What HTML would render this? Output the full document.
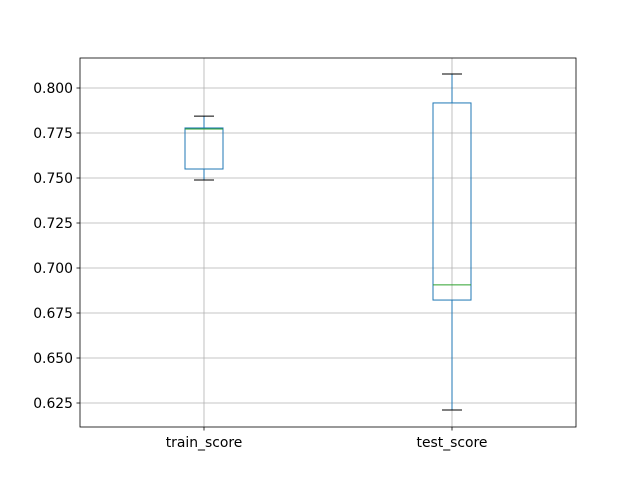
<!DOCTYPE html>
<html><head><meta charset="utf-8"><style>body{margin:0;background:#fff}svg{display:block}text{font-family:"DejaVu Sans","Liberation Sans",sans-serif;font-size:13.9px;fill:#000}</style></head>
<body>
<svg id="chart" width="640" height="480"></svg>
<script>
const categories = ["train_score", "test_score"];
const whiskerLow = [0.7489, 0.6211];
const q1 = [0.7550, 0.6822];
const medians = [0.7772, 0.6906];
const q3 = [0.7778, 0.7917];
const whiskerHigh = [0.7844, 0.8078];
const yTicks = [0.625, 0.650, 0.675, 0.700, 0.725, 0.750, 0.775, 0.800];

const L = 80, R = 576, T = 58, B = 427;
const yMin = 0.61167, yMax = 0.81667;
const y = v => B - (v - yMin) / (yMax - yMin) * (B - T);
const x = i => L + (R - L) * (i + 0.5) / categories.length;
const svg = document.getElementById('chart');
const NS = 'http://www.w3.org/2000/svg';
function mk(tag, attrs, parent) {
  const e = document.createElementNS(NS, tag);
  for (const k in attrs) e.setAttribute(k, attrs[k]);
  (parent || svg).appendChild(e);
  return e;
}
const grid = mk('g', {});


yTicks.forEach(t => {
  mk('line', {x1: L, x2: R, y1: y(t), y2: y(t), stroke: '#b0b0b0', 'stroke-width': 0.8}, grid);
  mk('line', {x1: L - 3.5, x2: L, y1: y(t), y2: y(t), stroke: '#000', 'stroke-width': 0.8}, grid);
  const tx = mk('text', {x: L - 7, y: y(t) + 5, 'text-anchor': 'end'}, grid);
  tx.textContent = t.toFixed(3);
  
  
});
categories.forEach((c, i) => {
  mk('line', {x1: x(i), x2: x(i), y1: T, y2: B, stroke: '#b0b0b0', 'stroke-width': 0.8}, grid);
  mk('line', {x1: x(i), x2: x(i), y1: B, y2: B + 3.5, stroke: '#000', 'stroke-width': 0.8}, grid);
  const tx = mk('text', {x: x(i), y: B + 20, 'text-anchor': 'middle'}, grid);
  tx.textContent = c;
  
  
});
categories.forEach((c, i) => {
  const g = mk('g', {});
  
  
  const cx = x(i), hw = 19, cw = 10, col = '#1f77b4';
  mk('line', {x1: cx, x2: cx, y1: y(q1[i]), y2: y(whiskerLow[i]), stroke: col, 'stroke-width': 1}, g);
  mk('line', {x1: cx, x2: cx, y1: y(q3[i]), y2: y(whiskerHigh[i]), stroke: col, 'stroke-width': 1}, g);
  mk('line', {x1: cx - cw, x2: cx + cw, y1: y(whiskerLow[i]), y2: y(whiskerLow[i]), stroke: '#000', 'stroke-width': 1}, g);
  mk('line', {x1: cx - cw, x2: cx + cw, y1: y(whiskerHigh[i]), y2: y(whiskerHigh[i]), stroke: '#000', 'stroke-width': 1}, g);
  mk('rect', {x: cx - hw, y: y(q3[i]), width: 2 * hw, height: y(q1[i]) - y(q3[i]), fill: 'none', stroke: col, 'stroke-width': 1}, g);
  mk('line', {x1: cx - hw, x2: cx + hw, y1: y(medians[i]), y2: y(medians[i]), stroke: '#2ca02c', 'stroke-width': 1}, g);
});
const frame = mk('rect', {x: L, y: T, width: R - L, height: B - T, fill: 'none', stroke: '#000', 'stroke-width': 0.8});


</script>
</body></html>
